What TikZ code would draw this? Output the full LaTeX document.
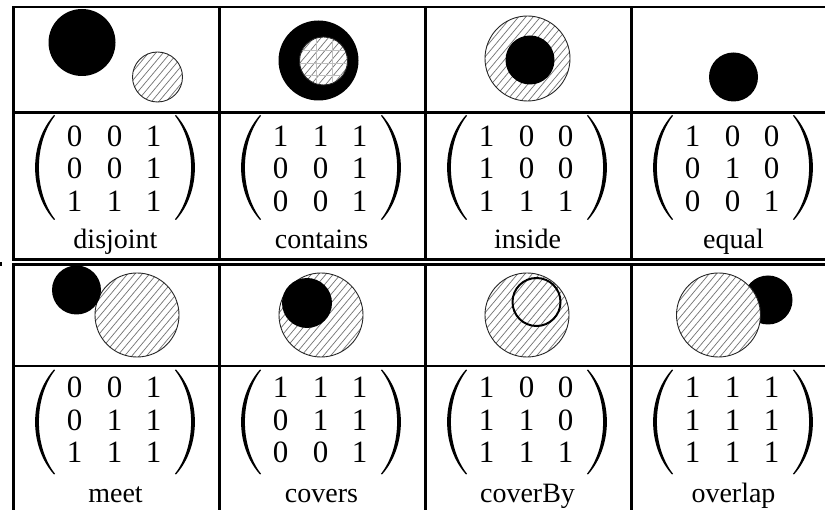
\documentclass[tikz,border=0pt]{standalone}
\usepackage{fontspec}
\setmainfont{Liberation Serif}

\tikzset{
  rule/.style={line width=2.2pt, line cap=rect},
  soliddisc/.style={fill=black},
  hatchline/.style={draw=black!55, line width=0.7pt},
  rimline/.style={draw=black!85, line width=0.9pt},
  ghostline/.style={draw=black!25, line width=0.5pt},
  digit/.style={anchor=base, inner sep=0pt, font=\fontsize{31}{31}\selectfont},
  relname/.style={anchor=base, inner sep=0pt, font=\fontsize{28}{28}\selectfont},
  brk/.style={fill=black},
}

% white disc with diagonal hatching and a thin rim: centre x, centre y, radius
\newcommand\hatchdisc[3]{%
  \begin{scope}
    \clip (#1,#2) circle [radius=#3pt];
    \fill[white] (#1,#2) circle [radius=#3pt];
    \foreach \k in {-9,...,9}
      \draw[hatchline] ({#1+\k*5.6*sin(50)-(#3+2)*cos(50)},{#2+\k*5.6*cos(50)+(#3+2)*sin(50)})
        -- ++({2*(#3+2)*cos(50)},{-2*(#3+2)*sin(50)});
  \end{scope}
  \draw[rimline] (#1,#2) circle [radius=#3pt];}

% pair of large round brackets: cell left x, top y, bottom y
\newcommand\relbrackets[3]{%
  \pgfmathsetmacro\hh{#3-#2}%
  \fill[brk] ({#1+40.5},#2) .. controls ({#1+15.3},{#2+0.27*\hh}) and ({#1+15.3},{#3-0.27*\hh}) .. ({#1+40.5},#3)
    -- ({#1+41.6},{#3-0.6}) .. controls ({#1+20},{#3-0.27*\hh}) and ({#1+20},{#2+0.27*\hh}) .. ({#1+41.6},{#2+0.6}) -- cycle;
  \fill[brk] ({#1+162.5},#2) .. controls ({#1+187.7},{#2+0.27*\hh}) and ({#1+187.7},{#3-0.27*\hh}) .. ({#1+162.5},#3)
    -- ({#1+161.4},{#3-0.6}) .. controls ({#1+183},{#3-0.27*\hh}) and ({#1+183},{#2+0.27*\hh}) .. ({#1+161.4},{#2+0.6}) -- cycle;}

% 3x3 matrix entries: cell left x, first baseline, name, three rows a/b/c
\newcommand\relentries[6]{%
  \foreach \a/\b/\c [count=\r] in {#4,#5,#6} {
    \node[digit] (#3-\r-1) at ({#1+61},{#2+(\r-1)*32.5}) {\a};
    \node[digit] (#3-\r-2) at ({#1+101},{#2+(\r-1)*32.5}) {\b};
    \node[digit] (#3-\r-3) at ({#1+140},{#2+(\r-1)*32.5}) {\c};
  }}

\begin{document}
\begin{tikzpicture}[x=1pt,y=-1pt]
  \useasboundingbox (0,0) rectangle (825,510);
  \clip (0,0) rectangle (825,510);

  % ---------- upper table ----------
  \draw[rule] (13.5,7.3) -- (840,7.3);
  \draw[rule] (13.5,112.5) -- (840,112.5);
  \draw[rule] (13.5,259.5) -- (840,259.5);
  \foreach \x in {13.5,219.5,425.5,631.5}
    \draw[rule] (\x,7.3) -- (\x,259.5);

  % ---------- lower table ----------
  \draw[rule] (13.5,264.5) -- (840,264.5);
  \draw[rule] (13.5,366) -- (840,366);
  \foreach \x in {13.5,219.5,425.5,631.5}
    \draw[rule] (\x,264.5) -- (\x,520);

  % stray mark at the left margin
  \fill (0,262.5) rectangle (2,265.8);

  % disjoint
  \fill[soliddisc] (82,42.5) circle [radius=33.5pt];
  \hatchdisc{157.5}{77}{25}
  % contains
  \fill[soliddisc] (318.5,60.5) circle [radius=40pt];
  \hatchdisc{323.5}{61}{24}
  \begin{scope}
    \clip (323.5,61) circle [radius=23.5pt];
    \foreach \x in {316.5,332.5} \draw[ghostline] (\x,30) -- (\x,90);
    \foreach \y in {50.5,63,75.5} \draw[ghostline] (295,\y) -- (350,\y);
  \end{scope}
  % inside
  \hatchdisc{527.5}{58.5}{42.5}
  \fill[soliddisc] (530,60) circle [radius=24.5pt];
  % equal
  \fill[soliddisc] (733.5,77) circle [radius=24.5pt];

  % meet
  \hatchdisc{137}{315}{42}
  \fill[soliddisc] (76.5,290) circle [radius=24.5pt];
  % covers
  \hatchdisc{321}{315}{42}
  \fill[soliddisc] (307,303) circle [radius=25pt];
  % coverBy
  \hatchdisc{527}{315}{42}
  \draw[line width=2pt] (536.5,302) circle [radius=24pt];
  % overlap
  \fill[soliddisc] (768,300) circle [radius=24.5pt];
  \hatchdisc{718.5}{315}{42}

  % ---------- matrices ----------
  \foreach \X in {13.5,219.5,425.5,631.5} {
    \relbrackets{\X}{115}{220}
    \relbrackets{\X}{369.5}{474.5}
  }
  \relentries{13.5}{146.5}{disj}{0/0/1}{0/0/1}{1/1/1}
  \relentries{219.5}{146.5}{cont}{1/1/1}{0/0/1}{0/0/1}
  \relentries{425.5}{146.5}{insd}{1/0/0}{1/0/0}{1/1/1}
  \relentries{631.5}{146.5}{eql}{1/0/0}{0/1/0}{0/0/1}
  \relentries{13.5}{398}{meet}{0/0/1}{0/1/1}{1/1/1}
  \relentries{219.5}{398}{cov}{1/1/1}{0/1/1}{0/0/1}
  \relentries{425.5}{398}{covb}{1/0/0}{1/1/0}{1/1/1}
  \relentries{631.5}{398}{ovl}{1/1/1}{1/1/1}{1/1/1}

  % ---------- relation names ----------
  \node[relname] (n-disjoint) at (115.5,248.5) {disjoint};
  \node[relname] (n-contains) at (321.5,248.5) {contains};
  \node[relname] (n-inside)   at (527.5,248.5) {inside};
  \node[relname] (n-equal)    at (733.5,248.5) {equal};
  \node[relname] (n-meet)     at (115.5,502) {meet};
  \node[relname] (n-covers)   at (321.5,502) {covers};
  \node[relname] (n-coverby)  at (527.5,502) {coverBy};
  \node[relname] (n-overlap)  at (733.5,502) {overlap};
\end{tikzpicture}
\end{document}
